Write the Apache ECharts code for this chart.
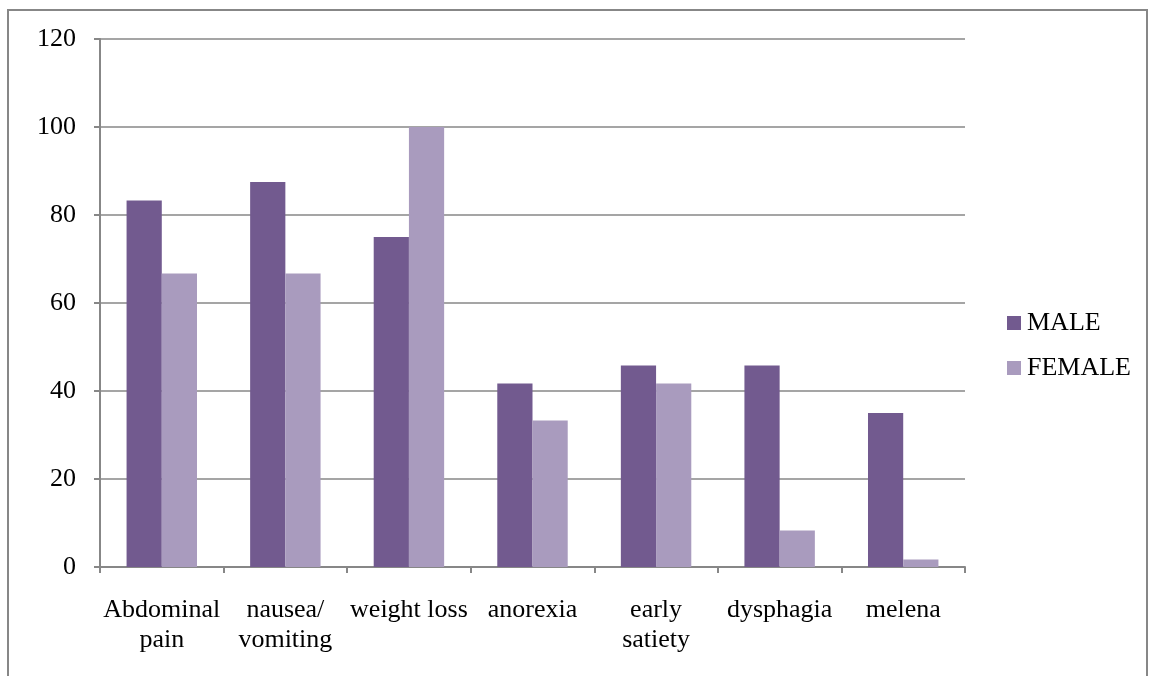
<!DOCTYPE html>
<html>
<head>
<meta charset="utf-8">
<script src="https://cdn.jsdelivr.net/npm/echarts@6/dist/echarts.min.js"></script>
<style>
  html, body { margin: 0; padding: 0; background: #ffffff; }
  #chart { width: 1161px; height: 676px; }
</style>
</head>
<body>
<div id="chart"></div>
<script>
// Symptom categories (x axis)
const categories = ['Abdominal\npain', 'nausea/\nvomiting', 'weight loss', 'anorexia', 'early\nsatiety', 'dysphagia', 'melena'];
// Percentage of patients reporting each symptom
const maleValues = [83.3, 87.5, 75, 41.7, 45.8, 45.8, 35];
const femaleValues = [66.7, 66.7, 100, 33.3, 41.7, 8.3, 1.7];
// Y axis range
const yMin = 0;
const yMax = 120;
const yStep = 20;

const axisGray = '#878787';
const serif = '"Liberation Serif", "Times New Roman", serif';

const chart = echarts.init(document.getElementById('chart'));
chart.setOption({
  animation: false,
  backgroundColor: '#ffffff',
  textStyle: { fontFamily: serif },
  graphic: [{
    type: 'rect',
    shape: { x: 8, y: 10, width: 1139, height: 720 },
    style: { fill: 'none', stroke: axisGray, lineWidth: 2 },
    silent: true,
    z: -1
  }],
  grid: { left: 100, right: 196, top: 39, bottom: 109 },
  legend: {
    orient: 'vertical',
    left: 1002,
    top: 305,
    itemWidth: 14,
    itemHeight: 14,
    itemGap: 19,
    icon: 'rect',
    textStyle: { fontFamily: serif, fontSize: 26, lineHeight: 26, color: '#000000', padding: [0, 0, 0, 1] },
    data: ['MALE', 'FEMALE']
  },
  xAxis: {
    type: 'category',
    data: categories,
    axisLine: { lineStyle: { color: axisGray, width: 2 } },
    axisTick: { show: true, length: 6, inside: false, alignWithLabel: false, lineStyle: { color: axisGray, width: 2 } },
    axisLabel: { fontFamily: serif, fontSize: 26, color: '#000000', margin: 28, lineHeight: 30, interval: 0 }
  },
  yAxis: {
    type: 'value',
    min: yMin,
    max: yMax,
    interval: yStep,
    axisLine: { show: true, lineStyle: { color: axisGray, width: 2 } },
    axisTick: { show: true, length: 6, lineStyle: { color: axisGray, width: 2 } },
    splitLine: { lineStyle: { color: axisGray, width: 1.5 } },
    axisLabel: { fontFamily: serif, fontSize: 26, color: '#000000', margin: 24 }
  },
  series: [
    {
      name: 'MALE',
      type: 'bar',
      data: maleValues,
      barGap: '0%',
      barCategoryGap: '43%',
      itemStyle: { color: '#725A8F' }
    },
    {
      name: 'FEMALE',
      type: 'bar',
      data: femaleValues,
      barGap: '0%',
      barCategoryGap: '43%',
      itemStyle: { color: '#A99BBE' }
    }
  ]
});
</script>
</body>
</html>
